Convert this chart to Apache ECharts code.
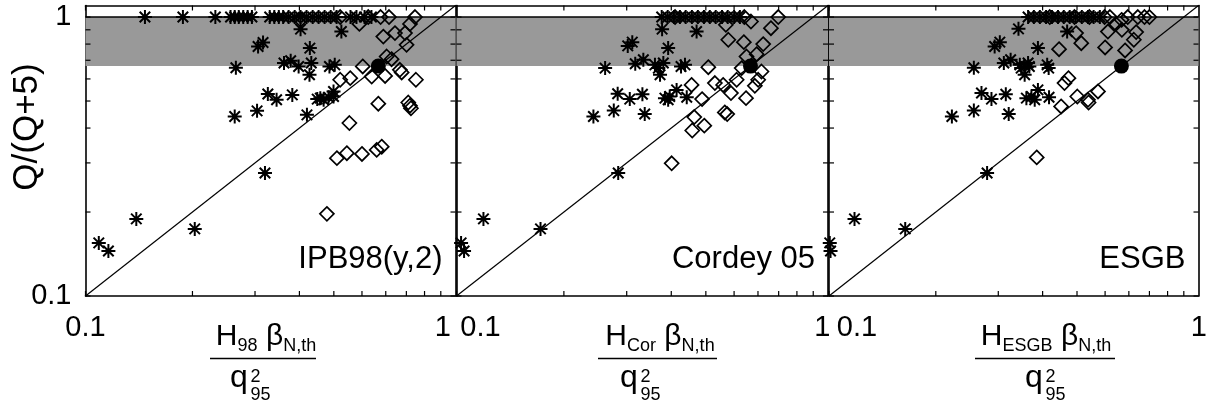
<!DOCTYPE html>
<html>
<head>
    <meta charset="utf-8">
    <script type="text/javascript" src="https://cdn.jsdelivr.net/npm/echarts@6.0.0/dist/echarts.min.js"></script>
</head>
<body style="margin: 0; background: #fff">
<div id="container" style="width: 1214px; height: 409px"></div>
<script type="text/javascript">
    // panel names and axis ticks
    var panelNames = ['IPB98(y,2)', 'Cordey 05', 'ESGB'];
    var panelSubs = ['98', 'Cor', 'ESGB'];
    var tickValues = [0.1, 0.2, 0.3, 0.4, 0.5, 0.6, 0.7, 0.8, 0.9, 1];
    var labelValues = [0.1, 1];
    var labelTexts = ['0.1', '1'];
    var axisMin = 0.1, axisMax = 1.1;
    var band = [0.667, 1];          // Q >= 10
    var refPoint = [0.667, 0.667];
    var diagonal = [0.1, 1.1];      // y = x

    // IPB98(y,2)
    var topStars1 = [0.147, 0.188, 0.232, 0.256, 0.263, 0.27, 0.278, 0.286, 0.294, 0.33, 0.34, 0.35, 0.36,
        0.373, 0.388, 0.403, 0.419, 0.436, 0.453, 0.471, 0.49, 0.509, 0.557, 0.579, 0.61, 0.638];
    var stars1 = [[0.306, 0.784], [0.316, 0.81], [0.265, 0.658], [0.326, 0.53], [0.345, 0.505], [0.304, 0.461],
        [0.263, 0.44], [0.32, 0.276], [0.109, 0.155], [0.116, 0.145], [0.139, 0.189], [0.203, 0.174],
        [0.403, 0.905], [0.525, 0.887], [0.428, 0.774], [0.362, 0.684], [0.378, 0.697], [0.398, 0.665],
        [0.432, 0.684], [0.427, 0.621], [0.486, 0.665], [0.503, 0.674], [0.382, 0.526], [0.449, 0.508],
        [0.458, 0.512], [0.468, 0.505], [0.483, 0.516], [0.499, 0.541], [0.499, 0.519], [0.42, 0.446]];
    var diamonds1 = [[0.403, 0.977], [0.521, 1], [0.59, 0.945], [0.625, 1], [0.677, 1], [0.715, 1], [0.846, 1],
        [0.819, 0.945], [0.793, 0.876], [0.743, 0.876], [0.689, 0.851], [0.801, 0.795], [0.704, 0.722],
        [0.727, 0.706], [0.603, 0.665], [0.767, 0.647], [0.776, 0.633], [0.639, 0.612], [0.697, 0.615],
        [0.851, 0.596], [0.556, 0.604], [0.521, 0.596], [0.667, 0.489], [0.81, 0.494], [0.819, 0.481],
        [0.824, 0.471], [0.553, 0.417], [0.51, 0.312], [0.544, 0.325], [0.6, 0.323], [0.66, 0.334],
        [0.682, 0.343], [0.478, 0.197]];

    // Cordey 05
    var topStars2 = [0.376, 0.391, 0.407, 0.423, 0.439, 0.457, 0.475, 0.494, 0.513, 0.533, 0.555, 0.576, 0.6, 0.623];
    var stars2 = [[0.302, 0.788], [0.311, 0.813], [0.261, 0.656], [0.317, 0.68], [0.334, 0.703], [0.283, 0.531],
        [0.306, 0.508], [0.332, 0.529], [0.276, 0.462], [0.242, 0.44], [0.337, 0.449], [0.284, 0.276],
        [0.103, 0.155], [0.105, 0.145], [0.119, 0.189], [0.172, 0.174], [0.377, 0.905], [0.471, 0.887],
        [0.392, 0.774], [0.36, 0.674], [0.368, 0.656], [0.372, 0.621], [0.38, 0.684], [0.426, 0.665],
        [0.437, 0.674], [0.384, 0.512], [0.396, 0.519], [0.392, 0.505], [0.414, 0.548], [0.442, 0.516]];
    var diamonds2 = [[0.41, 1], [0.641, 1], [0.669, 0.964], [0.569, 0.938], [0.798, 1], [0.761, 0.912],
        [0.578, 0.829], [0.639, 0.813], [0.724, 0.8], [0.694, 0.736], [0.65, 0.722], [0.508, 0.661],
        [0.63, 0.656], [0.716, 0.638], [0.701, 0.596], [0.686, 0.567], [0.61, 0.596], [0.456, 0.571],
        [0.53, 0.58], [0.559, 0.571], [0.588, 0.534], [0.648, 0.512], [0.488, 0.508], [0.565, 0.455],
        [0.574, 0.449], [0.464, 0.438], [0.458, 0.392], [0.495, 0.408], [0.401, 0.299]];

    // ESGB
    var topStars3 = [0.364, 0.378, 0.393, 0.409, 0.425, 0.442, 0.459, 0.477, 0.496, 0.516, 0.537, 0.557, 0.58];
    var stars3 = [[0.1005, 0.155], [0.101, 0.145], [0.118, 0.189], [0.164, 0.174], [0.342, 0.907], [0.293, 0.784],
        [0.303, 0.813], [0.256, 0.658], [0.311, 0.684], [0.325, 0.703], [0.345, 0.674], [0.348, 0.656],
        [0.356, 0.621], [0.269, 0.534], [0.287, 0.508], [0.315, 0.529], [0.256, 0.462], [0.222, 0.44],
        [0.321, 0.449], [0.279, 0.276], [0.469, 0.887], [0.388, 0.774], [0.364, 0.684], [0.367, 0.665],
        [0.412, 0.674], [0.416, 0.656], [0.36, 0.512], [0.372, 0.519], [0.38, 0.505], [0.388, 0.548],
        [0.417, 0.516]];
    var topDiamonds3 = [0.419, 0.492, 0.542, 0.598, 0.619, 0.695, 0.742, 0.775, 0.8];
    var diamonds3 = [[0.643, 0.945], [0.668, 0.977], [0.497, 0.876], [0.514, 0.806], [0.445, 0.767],
        [0.611, 0.887], [0.669, 0.9], [0.734, 0.883], [0.723, 0.829], [0.6, 0.778], [0.683, 0.759],
        [0.473, 0.604], [0.461, 0.58], [0.501, 0.519], [0.451, 0.478], [0.537, 0.505], [0.539, 0.494],
        [0.573, 0.541], [0.385, 0.314]];

    var onTop = function (xs) { return xs.map(function (x) { return [x, 1]; }); };
    var panelStars = [onTop(topStars1).concat(stars1), onTop(topStars2).concat(stars2), onTop(topStars3).concat(stars3)];
    var panelDiamonds = [diamonds1, diamonds2, onTop(topDiamonds3).concat(diamonds3)];

    var FONT = 'Liberation Sans, Arial, Helvetica, sans-serif';
    var STAR = 'path://M0,-10L0,10M-10,0L10,0M-7.5,-7.5L7.5,7.5M-7.5,7.5L7.5,-7.5';
    var TICK_LEN = 5;

    var grids = [
        {left: 85.5, top: 5.5, width: 370, height: 290.5},
        {left: 456.5, top: 5.5, width: 371.5, height: 290.5},
        {left: 829, top: 5.5, width: 369.5, height: 290.5}
    ];
    // shift of the "0.1" and "1" labels under each panel
    var labelShift = [[0, 2], [24, 9], [28, 15]];
    // fraction title layout per panel: numerator centre, bar x1/x2, q x, script x
    var fracLayout = [
        {num: 266, x1: 210, x2: 316, q: 230, s: 250.5},
        {num: 660, x1: 598, x2: 717, q: 620, s: 640.5},
        {num: 1046, x1: 975, x2: 1115, q: 1025, s: 1045.5}
    ];

    function axisLine() {
        return {show: true, onZero: false, lineStyle: {color: '#000', width: 1.6}};
    }

    // inward ticks on all four sides of a panel, placed by the axes' own log scale
    function renderTicks(params, api) {
        var v = api.value(0);
        var cs = params.coordSys;
        var px = api.coord([v, 1])[0];
        var py = api.coord([1, v])[1];
        var st = {stroke: '#000', lineWidth: 1.2};
        var b = cs.y + cs.height, r = cs.x + cs.width;
        return {
            type: 'group',
            children: [
                {type: 'line', shape: {x1: px, y1: b, x2: px, y2: b - TICK_LEN}, style: st},
                {type: 'line', shape: {x1: px, y1: cs.y, x2: px, y2: cs.y + TICK_LEN}, style: st},
                {type: 'line', shape: {x1: cs.x, y1: py, x2: cs.x + TICK_LEN, y2: py}, style: st},
                {type: 'line', shape: {x1: r, y1: py, x2: r - TICK_LEN, y2: py}, style: st}
            ]
        };
    }

    var xAxes = [], yAxes = [], series = [], graphics = [];

    grids.forEach(function (g, i) {
        var sh = labelShift[i];
        xAxes.push({
            type: 'log', logBase: 10, gridIndex: i, position: 'bottom', min: axisMin, max: axisMax,
            axisLine: axisLine(), axisTick: {show: false}, splitLine: {show: false},
            axisLabel: {
                customValues: labelValues, margin: 17, color: '#000',
                formatter: function (v) {
                    return v < 0.5 ? '{a|' + labelTexts[0] + '}' : '{b|' + labelTexts[1] + '}';
                },
                rich: {
                    a: {fontSize: 29, fontFamily: FONT, color: '#000', padding: [0, 0, 0, 2 * sh[0]]},
                    b: {fontSize: 29, fontFamily: FONT, color: '#000', padding: [0, 0, 0, 2 * sh[1]]}
                }
            }
        });
        xAxes.push({
            type: 'log', logBase: 10, gridIndex: i, position: 'top', min: axisMin, max: axisMax,
            axisLine: axisLine(), axisTick: {show: false}, axisLabel: {show: false}, splitLine: {show: false}
        });
        yAxes.push({
            type: 'log', logBase: 10, gridIndex: i, position: 'left', min: axisMin, max: axisMax,
            axisLine: axisLine(), axisTick: {show: false}, splitLine: {show: false},
            axisLabel: i === 0 ? {
                customValues: labelValues, margin: 14, color: '#000', fontSize: 29, fontFamily: FONT,
                formatter: function (v) { return v < 0.5 ? labelTexts[0] : labelTexts[1]; }
            } : {show: false}
        });
        yAxes.push({
            type: 'log', logBase: 10, gridIndex: i, position: 'right', min: axisMin, max: axisMax,
            axisLine: axisLine(), axisTick: {show: false}, axisLabel: {show: false}, splitLine: {show: false}
        });

        var xi = 2 * i, yi = 2 * i;
        series.push({
            type: 'line', xAxisIndex: xi, yAxisIndex: yi, z: 2, silent: true,
            data: [[diagonal[0], diagonal[0]], [diagonal[1], diagonal[1]]],
            symbol: 'none', lineStyle: {color: '#000', width: 1.2},
            markArea: {
                silent: true, itemStyle: {color: '#999999'},
                data: [[{yAxis: band[0]}, {yAxis: band[1]}]]
            },
            markLine: {
                silent: true, symbol: 'none', label: {show: false},
                lineStyle: {color: '#000', width: 1.5, type: 'solid'},
                data: [{yAxis: band[1]}]
            }
        });
        series.push({
            type: 'custom', xAxisIndex: xi, yAxisIndex: yi, z: 6, silent: true,
            data: tickValues.map(function (v) { return [v, v]; }),
            renderItem: renderTicks
        });
        series.push({
            type: 'scatter', xAxisIndex: xi, yAxisIndex: yi, z: 4,
            data: panelStars[i], symbol: STAR, symbolSize: 14,
            itemStyle: {color: '#000', borderColor: '#000', borderWidth: 2, opacity: 1}
        });
        series.push({
            type: 'scatter', xAxisIndex: xi, yAxisIndex: yi, z: 3,
            data: panelDiamonds[i], symbol: 'diamond', symbolSize: 14,
            itemStyle: {color: 'rgba(0,0,0,0)', borderColor: '#000', borderWidth: 1.7, opacity: 1}
        });
        series.push({
            type: 'scatter', xAxisIndex: xi, yAxisIndex: yi, z: 5,
            data: [refPoint], symbol: 'circle', symbolSize: 15,
            itemStyle: {color: '#000', opacity: 1}
        });

        // panel name
        graphics.push({
            type: 'text', x: g.left + g.width - 13, y: 259,
            style: {text: panelNames[i], fontSize: 31, fontFamily: FONT, fill: '#000', align: 'right', verticalAlign: 'middle'}
        });

        // x title:  H_sub beta_{N,th} / q_95^2
        var f = fracLayout[i];
        graphics.push({
            type: 'text', x: f.num, y: 319,
            style: {
                text: '{m|H}{s|' + panelSubs[i] + '}{m| \u03b2}{s|N,th}', align: 'center', verticalAlign: 'top',
                rich: {
                    m: {fontSize: 30, lineHeight: 36, fontFamily: FONT, fill: '#000', verticalAlign: 'middle'},
                    s: {fontSize: 18, lineHeight: 18, fontFamily: FONT, fill: '#000', verticalAlign: 'bottom'}
                }
            }
        });
        graphics.push({
            type: 'line', shape: {x1: f.x1, y1: 358.5, x2: f.x2, y2: 358.5},
            style: {stroke: '#000', lineWidth: 1.5}
        });
        graphics.push({
            type: 'text', x: f.q, y: 378,
            style: {text: 'q', fontSize: 32, fontFamily: FONT, fill: '#000', align: 'left', verticalAlign: 'middle'}
        });
        graphics.push({
            type: 'text', x: f.s, y: 377,
            style: {text: '2', fontSize: 18, fontFamily: FONT, fill: '#000', align: 'left', verticalAlign: 'middle'}
        });
        graphics.push({
            type: 'text', x: f.s, y: 395,
            style: {text: '95', fontSize: 18, fontFamily: FONT, fill: '#000', align: 'left', verticalAlign: 'middle'}
        });
    });

    // y title
    graphics.push({
        type: 'text', x: 27, y: 127, rotation: Math.PI / 2,
        style: {text: 'Q/(Q+5)', fontSize: 35, fontFamily: FONT, fill: '#000', align: 'center', verticalAlign: 'middle'}
    });

    var myChart = echarts.init(document.getElementById('container'), null, {renderer: 'canvas'});
    var option = {
        animation: false,
        backgroundColor: '#fff',
        grid: grids,
        xAxis: xAxes,
        yAxis: yAxes,
        series: series,
        graphic: graphics
    };
    myChart.setOption(option);
</script>
</body>
</html>
